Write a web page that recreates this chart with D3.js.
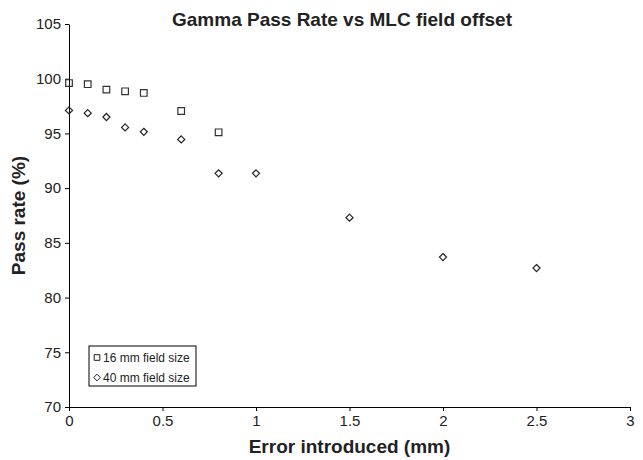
<!DOCTYPE html>
<html>
<head>
<meta charset="utf-8">
<script src="https://cdn.jsdelivr.net/npm/d3@7"></script>
<style>
  body { margin: 0; background: #fff; }
  svg { display: block; font-family: "Liberation Sans", Arial, sans-serif; }
</style>
</head>
<body>
<svg id="chart" width="643" height="460"></svg>
<script>
// 数据
const xTicks = [0, 0.5, 1, 1.5, 2, 2.5, 3];
const yTicks = [70, 75, 80, 85, 90, 95, 100, 105];

const x16 = [0, 0.1, 0.2, 0.3, 0.4, 0.6, 0.8];
const y16 = [99.6, 99.5, 99.0, 98.85, 98.7, 97.05, 95.1];

const x40 = [0, 0.1, 0.2, 0.3, 0.4, 0.6, 0.8, 1.0, 1.5, 2.0, 2.5];
const y40 = [97.1, 96.85, 96.5, 95.55, 95.15, 94.45, 91.35, 91.35, 87.3, 83.7, 82.7];

const seriesNames = ["16 mm field size", "40 mm field size"];

const svg = d3.select("#chart");
const margin = { top: 24, right: 13, bottom: 53, left: 69 };
const width = 643 - margin.left - margin.right;
const height = 460 - margin.top - margin.bottom;

const x = d3.scaleLinear().domain([0, 3]).range([0, width]);
const y = d3.scaleLinear().domain([70, 105]).range([height, 0]);

const g = svg.append("g").attr("transform", `translate(${margin.left},${margin.top})`);

// 坐标轴
const xAxis = g.append("g")
    .attr("transform", `translate(0,${height})`)
    .call(d3.axisBottom(x).tickValues(xTicks).tickSize(4).tickSizeOuter(0).tickPadding(4)
        .tickFormat(d => d3.format("")(d)));
const yAxis = g.append("g")
    .call(d3.axisLeft(y).tickValues(yTicks).tickSize(4).tickSizeOuter(0).tickPadding(4));

[xAxis, yAxis].forEach(a => {
    a.selectAll("text").attr("font-size", 15).attr("fill", "#222")
        .attr("font-family", "'Liberation Sans', Arial, sans-serif");
    a.selectAll("line,path").attr("stroke", "#000").attr("stroke-width", 1);
});

// 标记
const square = d3.symbol().type(d3.symbolSquare).size(44);
const diamond = d3.symbol().type(d3.symbolDiamond2).size(32);

g.append("g").selectAll("path")
    .data(x16.map((d, i) => [d, y16[i]]))
    .join("path")
    .attr("d", square)
    .attr("transform", d => `translate(${x(d[0])},${y(d[1])})`)
    .attr("fill", "none").attr("stroke", "#333").attr("stroke-width", 1.2);

g.append("g").selectAll("path")
    .data(x40.map((d, i) => [d, y40[i]]))
    .join("path")
    .attr("d", diamond)
    .attr("transform", d => `translate(${x(d[0])},${y(d[1])})`)
    .attr("fill", "none").attr("stroke", "#222").attr("stroke-width", 1.2);

// 标题
svg.append("text")
    .attr("x", 342).attr("y", 26)
    .attr("text-anchor", "middle")
    .attr("font-size", 19).attr("font-weight", "bold").attr("fill", "#222")
    .text("Gamma Pass Rate vs MLC field offset");

svg.append("text")
    .attr("x", margin.left + width / 2).attr("y", 453)
    .attr("text-anchor", "middle")
    .attr("font-size", 19).attr("font-weight", "bold").attr("fill", "#222")
    .text("Error introduced (mm)");

svg.append("text")
    .attr("transform", `translate(25,${margin.top + height / 2}) rotate(-90)`)
    .attr("text-anchor", "middle")
    .attr("font-size", 19).attr("font-weight", "bold").attr("fill", "#222")
    .text("Pass rate (%)");

// 图例
const legend = svg.append("g").attr("transform", "translate(89,346)");
legend.append("rect")
    .attr("width", 107).attr("height", 40)
    .attr("fill", "#fff").attr("stroke", "#000").attr("stroke-width", 1);

const legSym = [d3.symbol().type(d3.symbolSquare).size(32), d3.symbol().type(d3.symbolDiamond2).size(28)];
seriesNames.forEach((name, i) => {
    const row = legend.append("g").attr("transform", `translate(0,${11.5 + i * 20})`);
    row.append("path")
        .attr("d", legSym[i])
        .attr("transform", "translate(8,0)")
        .attr("fill", "none").attr("stroke", "#222").attr("stroke-width", 1);
    row.append("text")
        .attr("x", 14).attr("y", 4)
        .attr("font-size", 12).attr("fill", "#222")
        .text(name);
});
</script>
</body>
</html>
